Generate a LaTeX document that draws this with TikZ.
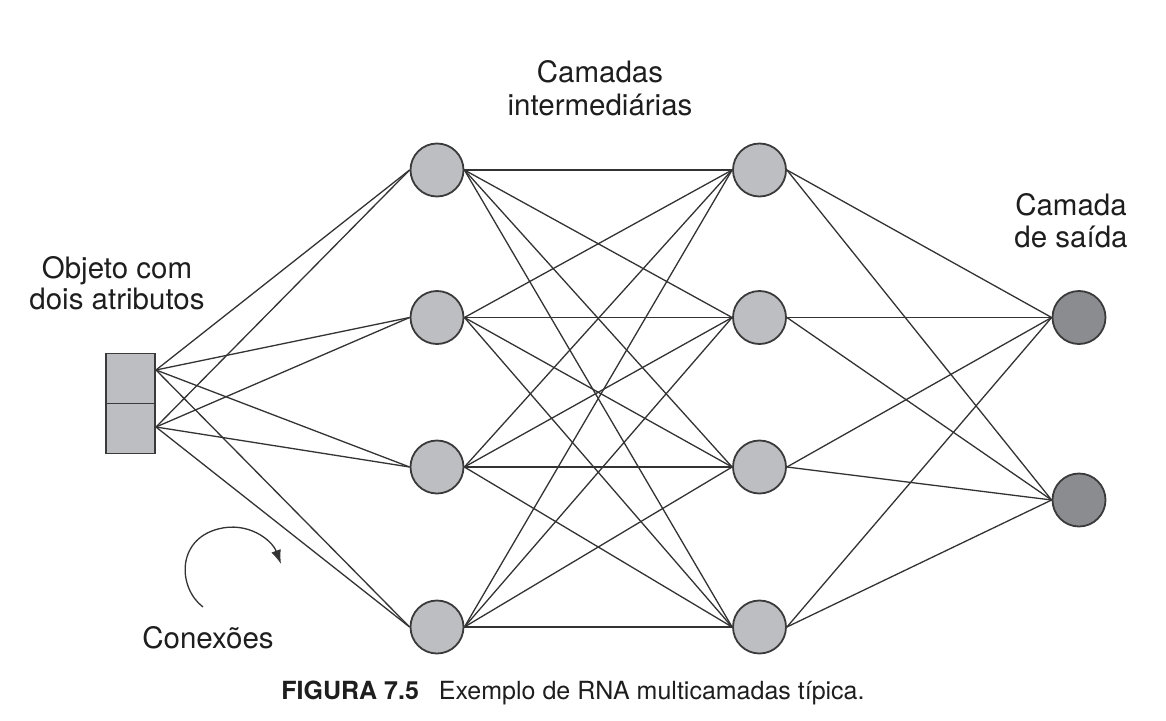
\documentclass[tikz,border=0pt]{standalone}
\usepackage{fontspec}
\setmainfont{TeX Gyre Heros}
\usetikzlibrary{arrows.meta,backgrounds}
\definecolor{nodefill}{HTML}{BDBEC1}
\definecolor{outfill}{HTML}{8B8C90}
\definecolor{edgec}{HTML}{3A3A3A}
\definecolor{connc}{HTML}{333333}
\definecolor{textc}{HTML}{1E1E1E}
\begin{document}
\begin{tikzpicture}[x=1pt,y=-1pt,
  neuron/.style={circle,draw=edgec,line width=1.8pt,fill=nodefill,minimum size=53pt,inner sep=0pt},
  outneuron/.style={neuron,fill=outfill},
  cell/.style={draw=edgec,line width=1.8pt,fill=nodefill,minimum width=49pt,minimum height=50pt,inner sep=0pt},
  conn/.style={draw=connc,line width=1.3pt},
  lbl/.style={align=center,inner sep=0pt,text=textc}
]
\useasboundingbox (0,0) rectangle (1166,720);

% input object
\node[cell] (c1) at (130.5,378.5) {};
\node[cell] (c2) at (130.5,428.5) {};
\coordinate (in1) at (156,370);
\coordinate (in2) at (156,427);

% hidden layers
\foreach \i/\y in {1/170,2/317.5,3/467,4/627}{
  \node[neuron] (a\i) at (437,\y) {};
  \node[neuron] (b\i) at (759.5,\y) {};
}
% output layer
\node[outneuron] (o1) at (1079,317.5) {};
\node[outneuron] (o2) at (1079,500) {};

\begin{scope}[on background layer]
  \fill[white] (0,0) rectangle (1166,720);
  \foreach \s in {in1,in2}{
    \foreach \j in {1,...,4}{ \draw[conn] (\s) -- (a\j.west); }
  }
  \foreach \i in {1,...,4}{
    \foreach \j in {1,...,4}{ \draw[conn] (a\i.east) -- (b\j.west); }
  }
  \foreach \i in {1,...,4}{
    \foreach \k in {1,2}{ \draw[conn] (b\i.east) -- (o\k.west); }
  }
\end{scope}

% curved arrow
\coordinate (arrS) at (203,607);
\coordinate (arrM) at (218,529);
\coordinate (arrE) at (281,564);
\draw[draw=connc,line width=1.3pt,-{Latex[length=14pt,width=10pt]}]
  (arrS) .. controls (178,588) and (176,540) .. (arrM)
         .. controls (248,521) and (272,540) .. (arrE);

% labels
\node[lbl,anchor=north,font=\fontsize{29.5}{33}\selectfont] (lhid) at (600,60) {Camadas\\intermediárias};
\node[lbl,anchor=north,font=\fontsize{29.5}{31}\selectfont] (lin) at (117,256) {Objeto com\\dois atributos};
\node[lbl,anchor=north,font=\fontsize{29.5}{32}\selectfont] (lout) at (1071,193) {Camada\\de saída};
\node[lbl,anchor=base,font=\fontsize{29.5}{32}\selectfont] (lcon) at (208,648) {Conexões};
\node[lbl,anchor=base,font=\fontsize{25}{30}\selectfont] (cap) at (573,699) {\textbf{FIGURA 7.5}\hspace{20pt}Exemplo de RNA multicamadas típica.};
\end{tikzpicture}
\end{document}
